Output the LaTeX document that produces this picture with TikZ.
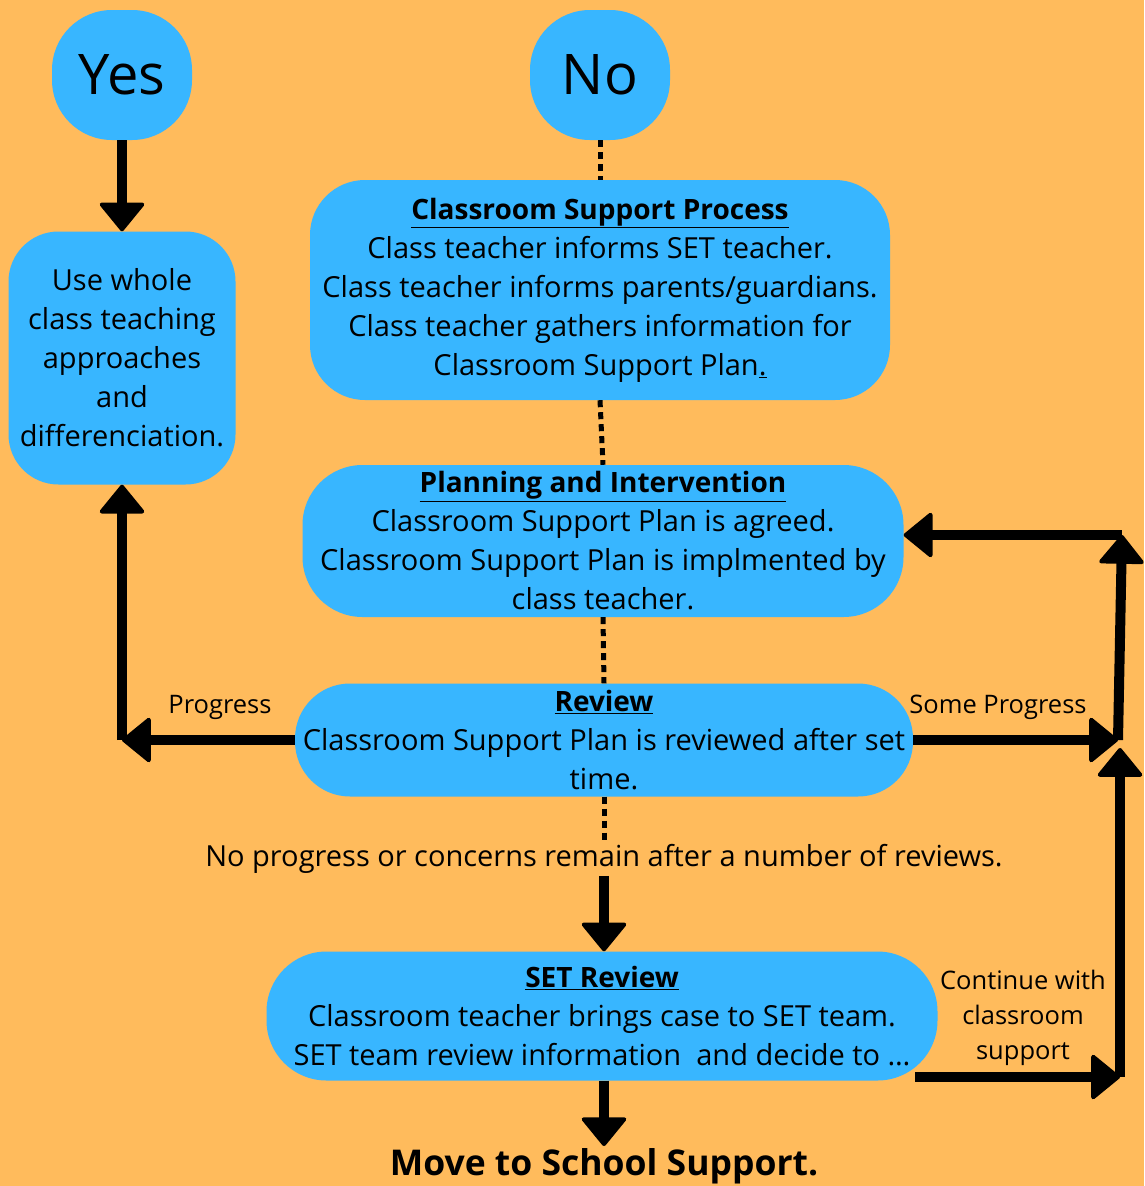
\documentclass[tikz,border=0pt]{standalone}
\usepackage{fontspec}
\setmainfont{Open Sans}
\usetikzlibrary{arrows.meta}
\definecolor{bg}{HTML}{FFBB5C}
\definecolor{bx}{HTML}{38B6FF}
\begin{document}
\begin{tikzpicture}[x=1pt,y=-1pt,
 box/.style={fill=bx, draw=none, inner sep=0pt, align=center, font=\fontsize{29}{39}\selectfont},
 arr/.style={line width=10pt, -{Triangle[length=30pt,width=48pt,round,line width=4pt]}},
 dots/.style={line width=5pt, dash pattern=on 7pt off 5pt},
 lbl/.style={font=\fontsize{25.5}{35}\selectfont, align=center, inner sep=0pt}]
\fill[bg] (0,0) rectangle (1144,1186);
\useasboundingbox (0,0) rectangle (1144,1186);
\newcommand{\hdtext}[1]{{\fontsize{28}{39}\selectfont\bfseries\underline{#1}}}
\newcommand{\lowr}{\\[-6pt]\mbox{}}

\node[box, minimum width=140pt, minimum height=130pt, rounded corners=60pt, font=\fontsize{56}{60}\selectfont] (yes) at (122,75) {Yes};
\node[box, minimum width=140pt, minimum height=130pt, rounded corners=60pt, font=\fontsize{56}{60}\selectfont] (no) at (600,75) {No};

\node[box, minimum width=227pt, minimum height=253pt, rounded corners=50pt] (use) at (122,358)
 {Use whole\\class teaching\\approaches\\and\\differenciation.};

\node[box, minimum width=580pt, minimum height=220pt, rounded corners=55pt] (csp) at (600,290)
 {\hdtext{Classroom Support Process}\\Class teacher informs SET teacher.\\Class teacher informs parents/guardians.\\Class teacher gathers information for\\Classroom Support Plan\underline{.}};

\node[box, minimum width=601pt, minimum height=152pt, rounded corners=60pt] (pi) at (603,541)
 {\hdtext{Planning and Intervention}\\Classroom Support Plan is agreed.\\Classroom Support Plan is implmented by\\class teacher.};

\node[box, minimum width=618pt, minimum height=113pt, rounded corners=55pt] (rev) at (604,740)
 {\hdtext{Review}\\Classroom Support Plan is reviewed after set\\time.};

\node[font=\fontsize{29}{39}\selectfont, inner sep=2pt] (np) at (604,859)
 {No progress or concerns remain after a number of reviews.};

\node[box, minimum width=671pt, minimum height=129pt, rounded corners=60pt] (set) at (602,1016)
 {\hdtext{SET Review}\\Classroom teacher brings case to SET team.\\SET team review information\ \ and decide to \dots};

\node[font=\bfseries\fontsize{35.5}{40}\selectfont, inner sep=2pt] (mv) at (604,1166) {Move to School Support.};

\node[lbl] (lp) at (220,707) {Progress};
\node[lbl] (lsp) at (998,707) {Some Progress};
\node[lbl] (lc) at (1023,1018) {Continue with\\classroom\\support};

\coordinate (pl) at (122,740);
\coordinate (r1) at (1118,740);
\coordinate (r2) at (1122,535);
\coordinate (r3) at (1120,1077);
\coordinate (r4) at (1120,748);
\coordinate (sp) at (915,1077);

\draw[arr] (yes.south) -- (use.north);
\draw[dots] (no.south) -- (csp.north);
\draw[dots] (csp.south) -- (pi.north);
\draw[dots] (pi.south) -- (rev.north);
\draw[dots] (rev.south) -- (np.north);
\draw[arr] (np.south) -- (np.south |- set.north);
\draw[arr] (np.south |- set.south) -- (np.south |- mv.north);

\draw[arr] (rev.west) -- (pl);
\draw[arr] (pl) -- (use.south);
\draw[arr] (rev.east) -- (r1);
\draw[arr] (r1) -- (r2);
\draw[arr] (r2) -- (pi.east |- r2);
\draw[arr] (sp) -- (r3);
\draw[arr] (r3) -- (r4);
\end{tikzpicture}
\end{document}
